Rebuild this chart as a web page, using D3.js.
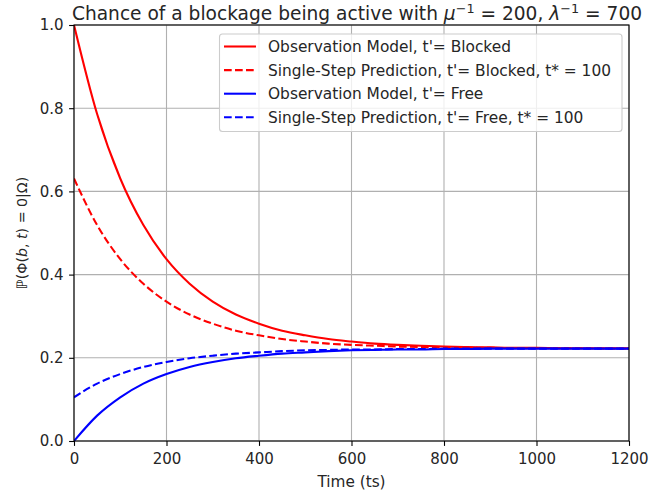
<!DOCTYPE html>
<html><head><meta charset="utf-8">
<script src="https://cdn.jsdelivr.net/npm/d3@7"></script>
<style>body{margin:0;background:#fff}svg{display:block}text{font-family:"DejaVu Sans",sans-serif;fill:#262626}</style>
</head><body>
<script>
const times = [0,50,100,150,200,250,300,350,400,450,500,550,600,650,700,750,800,850,900,950,1000,1050,1100,1150,1200];
const obsBlocked = [1.000,0.786,0.631,0.519,0.437,0.378,0.335,0.304,0.282,0.265,0.254,0.245,0.239,0.234,0.231,0.229,0.227,0.226,0.225,0.224,0.224,0.223,0.223,0.223,0.223];
const predBlocked = [0.631,0.519,0.437,0.378,0.335,0.304,0.282,0.265,0.254,0.245,0.239,0.234,0.231,0.229,0.227,0.226,0.225,0.224,0.224,0.223,0.223,0.223,0.223,0.222,0.222];
const obsFree = [0.000,0.061,0.105,0.138,0.161,0.178,0.190,0.199,0.205,0.210,0.213,0.216,0.218,0.219,0.220,0.220,0.221,0.221,0.222,0.222,0.222,0.222,0.222,0.222,0.222];
const predFree = [0.105,0.138,0.161,0.178,0.190,0.199,0.205,0.210,0.213,0.216,0.218,0.219,0.220,0.220,0.221,0.221,0.222,0.222,0.222,0.222,0.222,0.222,0.222,0.222,0.222];
const xTicks = [0,200,400,600,800,1000,1200];
const yTicks = [0.0,0.2,0.4,0.6,0.8,1.0];
const seriesNames = ["Observation Model, t'= Blocked","Single-Step Prediction, t'= Blocked, t* = 100","Observation Model, t'= Free","Single-Step Prediction, t'= Free, t* = 100"];

const W=650,H=495;
const m={l:74,r:21,t:25,b:54};
const svg=d3.select("body").append("svg").attr("width",W).attr("height",H);
const x=d3.scaleLinear().domain([0,1200]).range([m.l,W-m.r]);
const y=d3.scaleLinear().domain([0,1]).range([H-m.b,m.t]);

// grid
const g=svg.append("g");
g.selectAll(".vx").data(xTicks).join("line").attr("x1",d=>x(d)).attr("x2",d=>x(d)).attr("y1",y(0)).attr("y2",y(1)).attr("stroke","#b0b0b0").attr("stroke-width",1.1);
g.selectAll(".hy").data(yTicks).join("line").attr("y1",d=>y(d)).attr("y2",d=>y(d)).attr("x1",x(0)).attr("x2",x(1200)).attr("stroke","#b0b0b0").attr("stroke-width",1.1);

const series=[
 {vals:obsBlocked,color:"#ff0000",dash:null},
 {vals:predBlocked,color:"#ff0000",dash:"7.7,3.3"},
 {vals:obsFree,color:"#0000ff",dash:null},
 {vals:predFree,color:"#0000ff",dash:"7.7,3.3"}
];
const line=d3.line().x((d,i)=>x(times[i])).y(d=>y(d)).curve(d3.curveMonotoneX);
svg.append("clipPath").attr("id","c").append("rect").attr("x",x(0)).attr("y",y(1)).attr("width",x(1200)-x(0)).attr("height",y(0)-y(1));
series.forEach(s=>{
 svg.append("path").attr("d",line(s.vals)).attr("fill","none").attr("stroke",s.color).attr("stroke-width",2.08).attr("stroke-dasharray",s.dash).attr("clip-path","url(#c)");
});

// axes
const xa=svg.append("g").attr("transform",`translate(0,${y(0)})`).call(d3.axisBottom(x).tickValues(xTicks).tickFormat(d3.format("d")).tickSize(4.9).tickPadding(7));
const ya=svg.append("g").attr("transform",`translate(${x(0)},0)`).call(d3.axisLeft(y).tickValues(yTicks).tickFormat(d3.format(".1f")).tickSize(4.9).tickPadding(5.5));
[xa,ya].forEach(a=>{a.select(".domain").remove();a.selectAll("line").attr("stroke","#000").attr("stroke-width",1.1);a.selectAll("text").attr("font-size","15px").attr("font-family","DejaVu Sans").attr("fill","#262626");});
svg.append("rect").attr("x",x(0)).attr("y",y(1)).attr("width",x(1200)-x(0)).attr("height",y(0)-y(1)).attr("fill","none").attr("stroke","#000").attr("stroke-width",1.1);

// labels
svg.append("text").attr("x",(x(0)+x(1200))/2).attr("y",487).attr("text-anchor","middle").attr("font-size","15.3px").text("Time (ts)");
const yl=svg.append("text").attr("transform",`translate(27,${(y(0)+y(1))/2}) rotate(-90)`).attr("text-anchor","middle").attr("font-size","14.2px");
yl.append("tspan").text("ℙ(Φ(");
yl.append("tspan").attr("font-style","italic").text("b");
yl.append("tspan").text(", ");
yl.append("tspan").attr("font-style","italic").text("t");
yl.append("tspan").text(") = 0|Ω)");

const tt=svg.append("text").attr("x",357).attr("y",20).attr("text-anchor","middle").attr("font-size","18.6px");
tt.append("tspan").text("Chance of a blockage being active with ");
tt.append("tspan").attr("font-style","italic").text("μ");
tt.append("tspan").attr("font-size","12.8px").attr("dy",-7).text("−1");
tt.append("tspan").attr("dy",7).text(" = 200, ");
tt.append("tspan").attr("font-style","italic").text("λ");
tt.append("tspan").attr("font-size","12.8px").attr("dy",-7).text("−1");
tt.append("tspan").attr("dy",7).text(" = 700");

// legend
const lg=svg.append("g");
lg.append("rect").attr("x",219.5).attr("y",34).attr("width",402.5).attr("height",97.5).attr("rx",3).attr("fill","#fff").attr("fill-opacity",0.8).attr("stroke","#cccccc").attr("stroke-width",1.1);
series.forEach((s,i)=>{
 const yy=46.5+i*23.6;
 lg.append("line").attr("x1",224).attr("x2",256).attr("y1",yy).attr("y2",yy).attr("stroke",s.color).attr("stroke-width",2.08).attr("stroke-dasharray",s.dash);
 lg.append("text").attr("x",268).attr("y",yy+5.6).attr("font-size","15.4px").text(seriesNames[i]);
});
</script>
</body></html>
